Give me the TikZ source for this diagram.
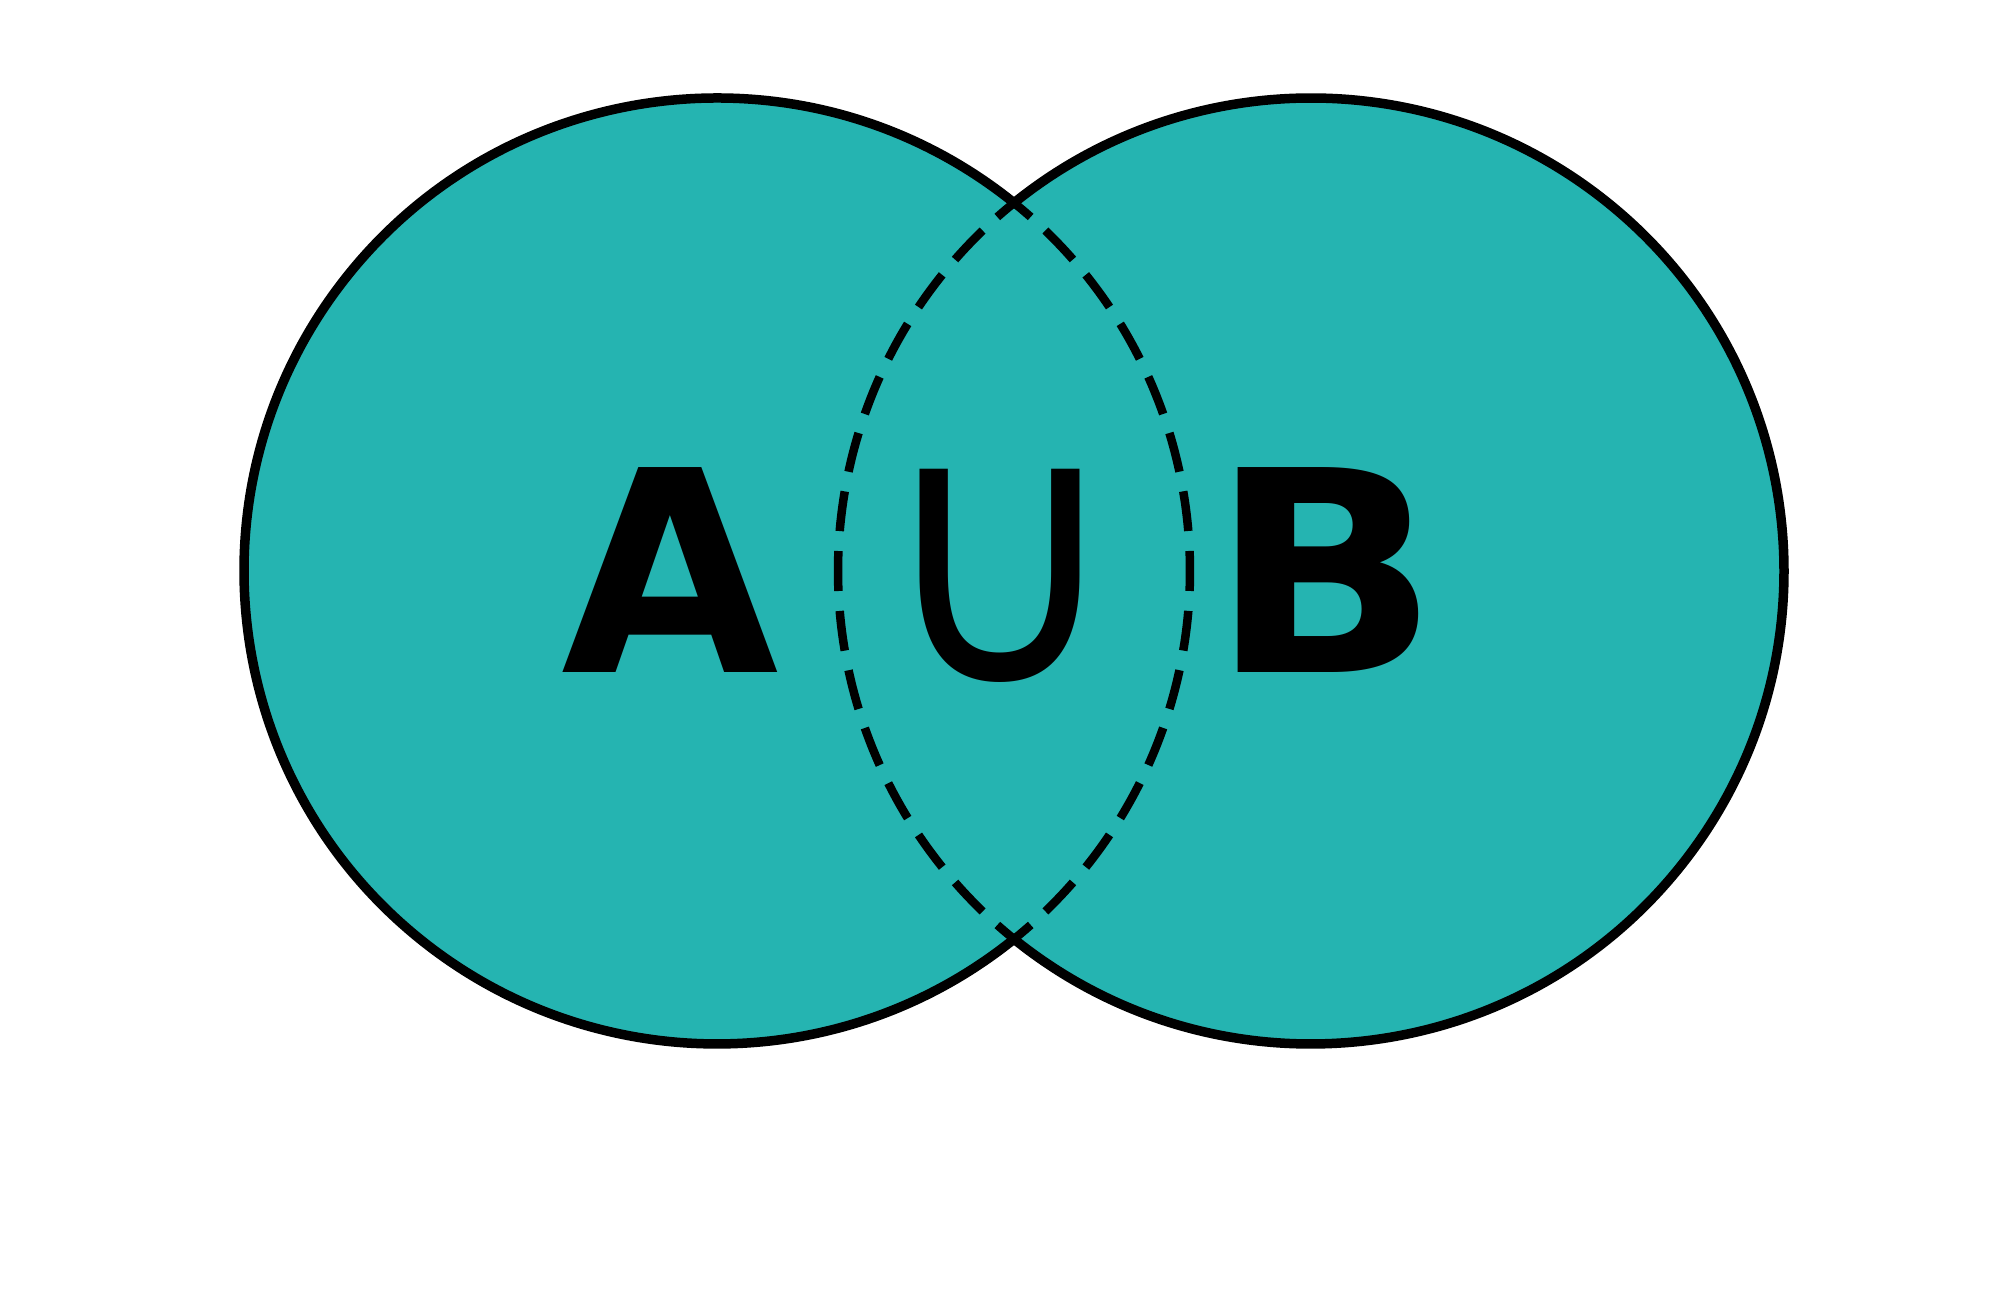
\documentclass[tikz,border=0pt]{standalone}
\usepackage{fontspec}
\setmainfont{DejaVu Sans}
\usepackage{tikz}
\definecolor{setfill}{HTML}{25B4B1}

\begin{document}
\begin{tikzpicture}[
  ring/.style={line width=0.095cm, draw=black},
  lens/.style={line width=0.085cm, draw=black, dash pattern=on 0.4cm off 0.2cm, dash phase=0.1755cm},
  letter/.style={anchor=base, inner sep=0pt, font=\fontsize{80pt}{96pt}\selectfont\bfseries},
  setop/.style={anchor=base, inner sep=0pt, font=\fontsize{80pt}{96pt}\selectfont}
]
  \useasboundingbox (0,0) rectangle (20,13);
  \coordinate (ca) at (7.17,7.29);
  \coordinate (cb) at (13.11,7.29);

  \fill[setfill] (ca) circle[radius=4.73];
  \fill[setfill] (cb) circle[radius=4.73];

  \node[letter] (seta) at (6.70,6.27) {A};
  \node[setop] (union) at (10.00,6.17) {\scalebox{1.2}[1.31]{∪}};
  \node[letter] (setb) at (13.25,6.27) {\scalebox{1.07}[1]{B}};

  \draw[ring] (ca) ++(51.17:4.73) arc[start angle=51.17, end angle=308.83, radius=4.73];
  \draw[ring] (cb) ++(-128.83:4.73) arc[start angle=-128.83, end angle=128.83, radius=4.73];
  \draw[lens] (ca) ++(-51.17:4.73) arc[start angle=-51.17, end angle=51.17, radius=4.73];
  \draw[lens] (cb) ++(128.83:4.73) arc[start angle=128.83, end angle=231.17, radius=4.73];
\end{tikzpicture}
\end{document}
